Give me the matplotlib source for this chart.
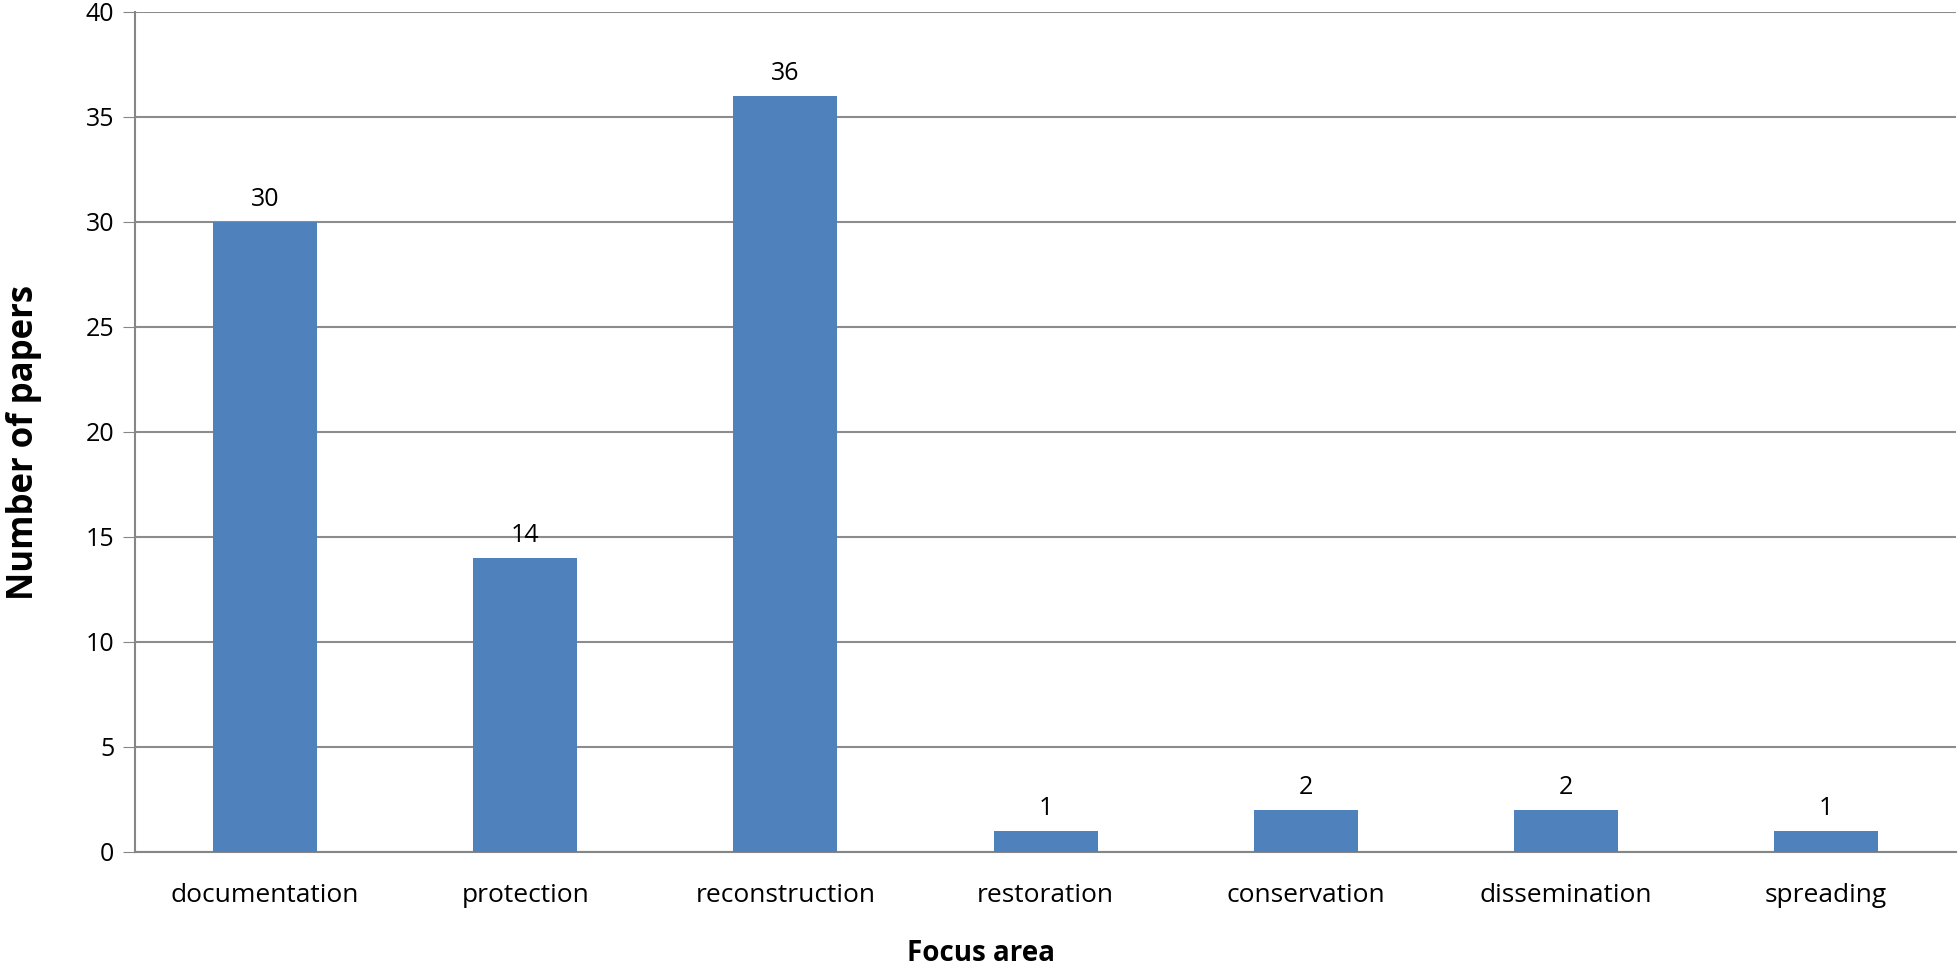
import matplotlib.pyplot as plt
import numpy as np

categories = ["documentation", "protection", "reconstruction", "restoration",
              "conservation", "dissemination", "spreading"]
counts = [30, 14, 36, 1, 2, 2, 1]
yticks = [0, 5, 10, 15, 20, 25, 30, 35, 40]

plt.rcParams['font.family'] = ['Open Sans', 'DejaVu Sans']

fig = plt.figure(figsize=(19.6, 9.75), dpi=100)
ax = fig.add_axes([0.0689, 0.1262, 0.9291, 0.8615])

x = np.arange(len(categories))
bars = ax.bar(x, counts, width=0.4, color="#4F81BD", zorder=3)

for b, v in zip(bars, counts):
    ax.annotate(str(v), (b.get_x() + b.get_width() / 2, v), xytext=(0, 7),
                textcoords="offset points", ha="center", va="bottom", fontsize=18)

ax.set_xlim(-0.5, len(categories) - 0.5)
ax.set_ylim(0, 40)
ax.set_yticks(yticks)
ax.set_xticks(x)
ax.set_xticklabels(categories, fontsize=19)
ax.tick_params(axis="y", labelsize=18, length=9, color="#868686", pad=6)
ax.tick_params(axis="x", length=0, pad=22)
ax.yaxis.grid(True, color="#8c8c8c", linewidth=1.5, zorder=0)

for s in ["top", "right"]:
    ax.spines[s].set_visible(False)
for s in ["left", "bottom"]:
    ax.spines[s].set_color("#868686")
    ax.spines[s].set_linewidth(1.5)

ax.set_ylabel("Number of papers", fontsize=25, fontweight="bold")
ax.yaxis.set_label_coords(-0.051, 0.488)
ax.set_xlabel("Focus area", fontsize=20, fontweight="bold")
ax.xaxis.set_label_coords(0.4646, -0.104)

fig.savefig("out.png", dpi=100)
